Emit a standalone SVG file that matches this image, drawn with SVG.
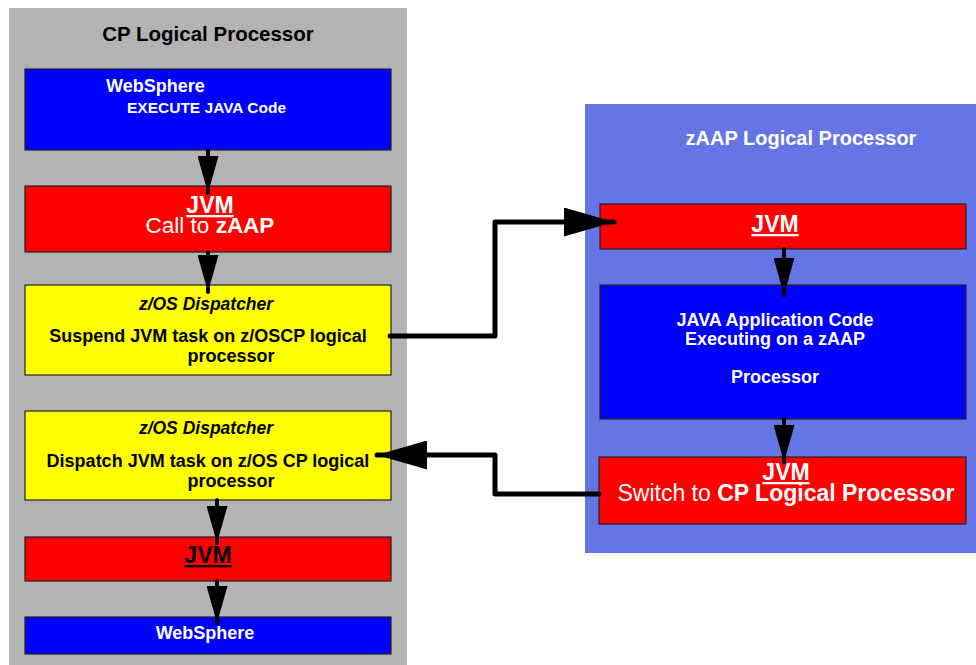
<svg xmlns="http://www.w3.org/2000/svg" width="976" height="665" viewBox="0 0 976 665">
<style>
text{font-family:"Liberation Sans",Arial,sans-serif;}
.box{stroke:#222;stroke-width:1.2;}
.blue{fill:#0000ff;}
.red{fill:#ff0000;}
.yel{fill:#ffff00;}
.w{fill:#ffffff;}
.k{fill:#000000;}
.b{font-weight:bold;}
.c{text-anchor:middle;}
.u{text-decoration:underline;}
.conn{fill:none;stroke:#000;stroke-linejoin:round;stroke-linecap:round;}
</style>
<defs>
<marker id="ad" markerUnits="userSpaceOnUse" markerWidth="38" markerHeight="21" refX="37" refY="10.5" orient="auto">
<path d="M0,0 L37,10.5 L0,21 Z" fill="#000"/>
</marker>
<marker id="ah" markerUnits="userSpaceOnUse" markerWidth="51" markerHeight="29" refX="50" refY="14.5" orient="auto">
<path d="M0,0 L50,14.5 L0,29 Z" fill="#000"/>
</marker>
</defs>
<rect width="976" height="665" fill="#ffffff"/>
<g id="cp-panel">
<rect x="9" y="8" width="398" height="660" fill="#b3b3b3"/>
<text x="208" y="40.5" class="c b k" font-size="20.5">CP Logical Processor</text>
</g>
<g id="zaap-panel">
<rect x="585" y="104" width="395" height="449" fill="#6675e5"/>
<text x="801" y="145" class="c b w" font-size="20">zAAP Logical Processor</text>
</g>
<g id="websphere-execute">
<rect x="25" y="69" width="366" height="81" class="box blue"/>
<text x="106" y="92" class="b w" font-size="18">WebSphere</text>
<text x="127" y="113" class="b w" font-size="15.5">EXECUTE JAVA Code</text>
</g>
<g id="jvm-call-zaap">
<rect x="25" y="186" width="366" height="66" class="box red"/>
<text x="210" y="213" class="c b w u" font-size="23">JVM</text>
<text x="210" y="233" class="c w" font-size="22.5">Call to <tspan class="b">zAAP</tspan></text>
</g>
<g id="dispatcher-suspend">
<rect x="25" y="285" width="366" height="90" class="box yel"/>
<text x="206" y="310" class="c b k" font-size="17.5" font-style="italic">z/OS Dispatcher</text>
<text x="208" y="342" class="c b k" font-size="18">Suspend JVM task on z/OSCP logical</text>
<text x="231" y="362" class="c b k" font-size="18">processor</text>
</g>
<g id="dispatcher-dispatch">
<rect x="25" y="411" width="366" height="89" class="box yel"/>
<text x="206" y="434" class="c b k" font-size="17.5" font-style="italic">z/OS Dispatcher</text>
<text x="208" y="467" class="c b k" font-size="18">Dispatch JVM task on z/OS CP logical</text>
<text x="231" y="487" class="c b k" font-size="18">processor</text>
</g>
<g id="jvm-cp">
<rect x="25" y="537" width="366" height="44" class="box red"/>
<text x="208" y="563" class="c b k u" font-size="23">JVM</text>
</g>
<g id="websphere-end">
<rect x="25" y="617" width="366" height="37" class="box blue"/>
<text x="205" y="639" class="c b w" font-size="18">WebSphere</text>
</g>
<g id="jvm-zaap">
<rect x="600" y="204" width="366" height="45" class="box red"/>
<text x="775" y="232" class="c b w u" font-size="23">JVM</text>
</g>
<g id="java-app">
<rect x="600" y="285" width="366" height="134" class="box blue"/>
<text x="775" y="326" class="c b w" font-size="18">JAVA Application Code</text>
<text x="775" y="345" class="c b w" font-size="18">Executing on a zAAP</text>
<text x="775" y="383" class="c b w" font-size="18">Processor</text>
</g>
<g id="jvm-switch">
<rect x="599" y="457" width="367" height="67" class="box red"/>
<text x="786" y="480" class="c b w u" font-size="23">JVM</text>
<text x="786" y="501" class="c w" font-size="23">Switch to <tspan class="b">CP Logical Processor</tspan></text>
</g>
<g id="connectors">
<line x1="208" y1="150" x2="208" y2="193" class="conn" stroke-width="4" marker-end="url(#ad)"/>
<line x1="208" y1="252" x2="208" y2="292" class="conn" stroke-width="4" marker-end="url(#ad)"/>
<line x1="217" y1="500" x2="217" y2="543" class="conn" stroke-width="4" marker-end="url(#ad)"/>
<line x1="217" y1="581" x2="217" y2="623" class="conn" stroke-width="4" marker-end="url(#ad)"/>
<line x1="784" y1="249" x2="784" y2="295" class="conn" stroke-width="4" marker-end="url(#ad)"/>
<line x1="784" y1="419" x2="784" y2="462" class="conn" stroke-width="4" marker-end="url(#ad)"/>
<polyline points="390,336 495,336 495,222 614,222" class="conn" stroke-width="5" marker-end="url(#ah)"/>
<polyline points="599,494 495,494 495,455 377,455" class="conn" stroke-width="5" marker-end="url(#ah)"/>
</g>
</svg>
